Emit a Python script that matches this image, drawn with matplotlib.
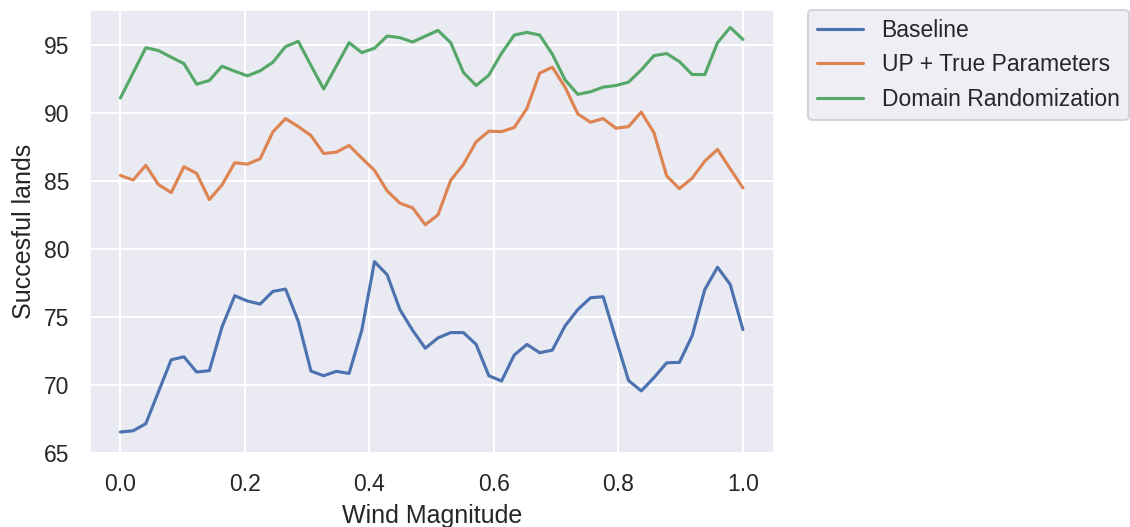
import numpy as np
import matplotlib
matplotlib.use("Agg")
import matplotlib.pyplot as plt
import seaborn as sns

wind = np.linspace(0, 1, 50)

baseline = [66.54, 66.63, 67.15, 69.51, 71.85, 72.07, 70.95, 71.05, 74.27, 76.56,
            76.17, 75.95, 76.88, 77.05, 74.68, 71.02, 70.68, 71.00, 70.85, 74.02,
            79.07, 78.10, 75.54, 74.02, 72.70, 73.46, 73.85, 73.85, 72.98, 70.68,
            70.29, 72.20, 72.98, 72.37, 72.56, 74.34, 75.54, 76.41, 76.49, 73.39,
            70.32, 69.56, 70.54, 71.63, 71.66, 73.61, 77.02, 78.66, 77.39, 74.07]

up_true = [85.41, 85.07, 86.15, 84.73, 84.15, 86.05, 85.56, 83.63, 84.71, 86.34,
           86.24, 86.63, 88.61, 89.59, 89.00, 88.34, 87.02, 87.12, 87.61, 86.68,
           85.78, 84.27, 83.37, 83.02, 81.78, 82.51, 85.05, 86.22, 87.88, 88.66,
           88.63, 88.93, 90.34, 92.93, 93.37, 91.90, 89.93, 89.32, 89.59, 88.88,
           89.00, 90.07, 88.54, 85.37, 84.44, 85.20, 86.46, 87.32, 85.90, 84.49]

domain_rand = [91.10, 92.95, 94.80, 94.59, 94.10, 93.63, 92.12, 92.39, 93.44, 93.07,
               92.73, 93.10, 93.73, 94.88, 95.27, 93.50, 91.76, 93.46, 95.17, 94.44,
               94.76, 95.66, 95.54, 95.22, 95.65, 96.07, 95.17, 92.98, 92.02, 92.78,
               94.39, 95.73, 95.93, 95.73, 94.32, 92.44, 91.37, 91.56, 91.90, 92.02,
               92.27, 93.17, 94.22, 94.37, 93.78, 92.83, 92.83, 95.17, 96.29, 95.41]

sns.set_theme()
plt.rcParams['font.family'] = ['Liberation Sans', 'DejaVu Sans']

fig = plt.figure(figsize=(1130 / 150, 527 / 150), dpi=150)
ax = fig.add_axes([0.079, 0.140, 0.606, 0.843])
ax.plot(wind, baseline, label="Baseline")
ax.plot(wind, up_true, label="UP + True Parameters")
ax.plot(wind, domain_rand, label="Domain Randomization")
ax.set_ylim(64.98, 97.65)
ax.set_xlabel("Wind Magnitude")
ax.set_ylabel("Succesful lands")
ax.legend(bbox_to_anchor=(1.05, 0.998), loc=2, borderaxespad=0.)
fig.savefig("out.png", dpi=150)
